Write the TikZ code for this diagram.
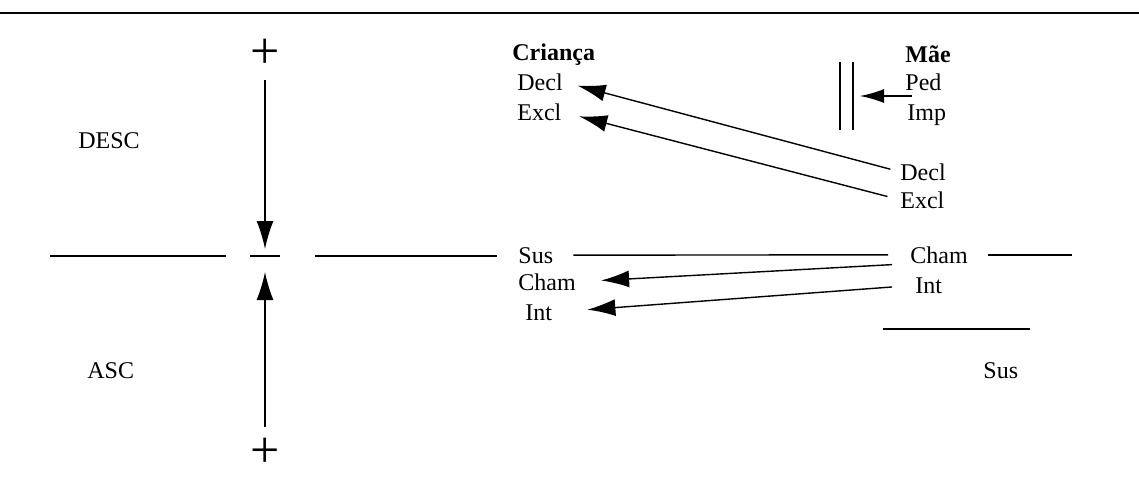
\documentclass[tikz,border=0pt]{standalone}
\usepackage{fontspec}
\setmainfont{Liberation Serif}
\usetikzlibrary{arrows.meta}
\begin{document}
\begin{tikzpicture}[x=0.5pt,y=-0.5pt]
    \tikzstyle{lbl}=[inner sep=0pt,anchor=base west,font=\fontsize{12}{14}\selectfont]
    \tikzstyle{hd}=[lbl,font=\fontsize{12}{14}\selectfont\bfseries]
    \tikzstyle{plus}=[inner sep=0pt,font=\fontsize{26}{26}\selectfont]
    \tikzstyle{ln}=[line width=0.7pt]
    \tikzstyle{arr}=[ln,-{Latex[length=14pt,width=8.5pt]}]
    \useasboundingbox (0,0) rectangle (1139,483);
    \draw[line width=1.2pt] (0,13) -- (1139,13);
    \node[plus] (plusTop) at (265,54) {+};
    \node[plus] (plusBot) at (265,453) {+};
    \coordinate (cross) at (265,257);
    \node[lbl] (desc) at (78,148) {DESC};
    \node[lbl] (asc) at (87,378) {ASC};
    \node[hd] (crianca) at (512,60) {Criança};
    \node[lbl] (cDecl) at (517,90) {Decl};
    \node[lbl] (cExcl) at (517,120) {Excl};
    \node[lbl] (cSus) at (518,263) {Sus};
    \node[lbl] (cCham) at (518,290) {Cham};
    \node[lbl] (cInt) at (525,320) {Int};
    \node[hd] (mae) at (905,62) {Mãe};
    \node[lbl] (mPed) at (905,90) {Ped};
    \node[lbl] (mImp) at (907,120) {Imp};
    \node[lbl] (mDecl) at (900,180) {Decl};
    \node[lbl] (mExcl) at (900,208) {Excl};
    \node[lbl] (mCham) at (910,263) {Cham};
    \node[lbl] (mInt) at (915,293) {Int};
    \node[lbl] (mSus) at (983,378) {Sus};
    \coordinate (pedImp) at (912,96);
    \coordinate (barMid) at (853,96);
    \draw[arr,shorten <=5.5pt,shorten >=4pt] (plusTop.south) -- (cross);
    \draw[arr,shorten <=5.5pt,shorten >=7.5pt] (plusBot.north) -- (cross);
    \draw[ln] (50,256) -- (226,256);
    \draw[ln] (250,256) -- (280,256);
    \draw[ln] (315,256) -- (497,256);
    \draw[ln,shorten <=10pt,shorten >=11pt] (cSus.east) -- (mCham.west);
    \draw[ln] (988,255) -- (1072,255);
    \draw[ln] (883,329) -- (1030,329);
    \draw[ln] (840,62) -- (840,130);
    \draw[ln] (853,62) -- (853,130);
    \draw[ln,-{Latex[length=12pt,width=7pt]},shorten >=3.5pt] (pedImp) -- (barMid);
    \draw[arr,shorten <=5pt,shorten >=7.5pt] (mDecl.west) -- (cDecl.east);
    \draw[arr,shorten <=6.5pt,shorten >=9pt] (mExcl.west) -- (cExcl.east);
    \draw[arr,shorten <=9pt,shorten >=12.5pt] (mCham.south west) -- (cCham.east);
    \draw[arr,shorten <=11.5pt,shorten >=17.5pt] (mInt.west) -- (cInt.east);
\end{tikzpicture}
\end{document}
